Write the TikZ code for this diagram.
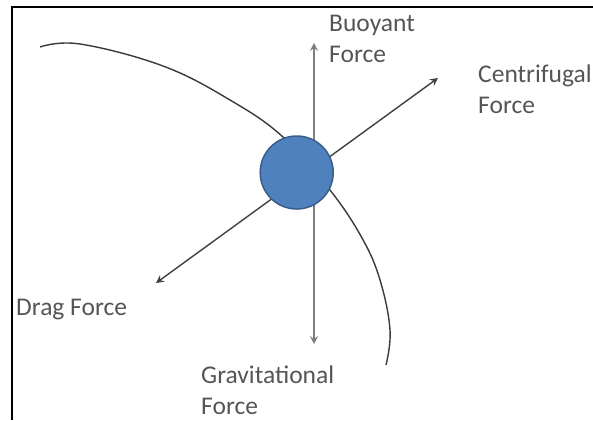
\documentclass[tikz,border=0pt]{standalone}
\usepackage{fontspec}
\setmainfont{Carlito}
\usepackage{xcolor}
\definecolor{ballblue}{RGB}{79, 129, 189}
\definecolor{balledge}{RGB}{56, 93, 138}
\definecolor{labelgray}{RGB}{85, 85, 85}
\definecolor{linegray}{RGB}{64, 64, 64}
\definecolor{axisgray}{RGB}{125, 125, 125}
\usepackage{tikz}
\usetikzlibrary{arrows.meta, positioning}

\begin{document}
\begin{tikzpicture}[x=1pt, y=-1pt, >={Stealth[length=8pt, width=8pt, inset=3pt]},
    forcelabel/.style={anchor=base west, inner sep=0pt, align=left, text=labelgray,
        font=\fontsize{25.5}{31}\selectfont}]
    \useasboundingbox (0,0) rectangle (593,420);
    \draw[line width=2pt] (12,420) -- (12,7) -- (593,7);
    \draw[line width=1.4pt, linegray!90!black] plot[smooth, tension=0.65] coordinates
        {(40,47) (80,44) (163,66) (230,100) (283,137) (330,190) (362,238) (380,280) (390,330) (386,365)};
    \coordinate (buoyTip) at (314,43);
    \coordinate (gravTip) at (314,344);
    \coordinate (centTip) at (438,78);
    \coordinate (dragTip) at (156,283);
    \draw[<->, line width=1.4pt, axisgray] (gravTip) -- (buoyTip);
    \draw[<->, line width=1.4pt, linegray] (dragTip) -- (centTip);
    \node[circle, fill=ballblue, draw=balledge, line width=1.5pt, minimum size=73pt] (particle) at (296.7,172.5) {};
    \node[forcelabel] (buoyant) at (329,63) {Buoyant\\Force};
    \node[forcelabel] (centrifugal) at (478,113) {Centrifugal\\Force};
    \node[forcelabel] (drag) at (16,315) {Drag Force};
    \node[forcelabel] (gravitational) at (201,414) {Gravitational\\Force};
\end{tikzpicture}
\end{document}
